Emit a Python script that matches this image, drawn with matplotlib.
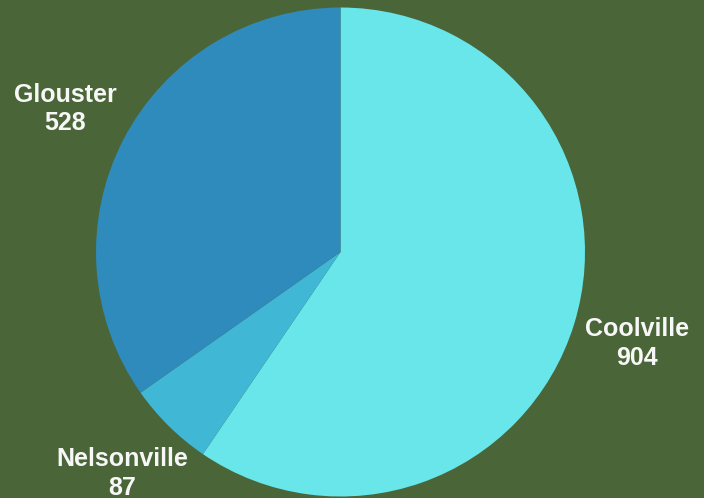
import numpy as np
import matplotlib.pyplot as plt

towns = ['Coolville', 'Nelsonville', 'Glouster']
counts = [904, 87, 528]
colores = ['#68e6e9', '#40b7d4', '#2e8bbc']
fondo = '#4a6537'

fig = plt.figure(figsize=(7.04, 4.98), dpi=100, facecolor=fondo)
ax = fig.add_axes([0, 0, 1, 1])
ax.set_facecolor(fondo)

# pie de radio 1 centrado en el origen, sentido horario desde arriba
wedges, _ = ax.pie(counts, colors=colores, startangle=90, counterclock=False,
                   wedgeprops=dict(linewidth=0))

# etiquetas afuera, centradas en el angulo medio de cada trozo
for w, name, n in zip(wedges, towns, counts):
    ang = np.deg2rad((w.theta1 + w.theta2) / 2)
    x, y = 1.27 * np.cos(ang), 1.27 * np.sin(ang)
    ax.text(x, y, f'{name}\n{n}', ha='center', va='center', color='#f7f7f7',
            fontsize=18, fontweight='bold', family='Liberation Sans',
            linespacing=1.25)

# limites para que el centro quede en (340, 252) px con radio 244 px
ax.set_xlim(-1.3926, 1.4867)
ax.set_ylim(-1.0061, 1.0307)
ax.set_aspect('auto')
ax.axis('off')

plt.savefig('out.png', dpi=100, facecolor=fondo)
